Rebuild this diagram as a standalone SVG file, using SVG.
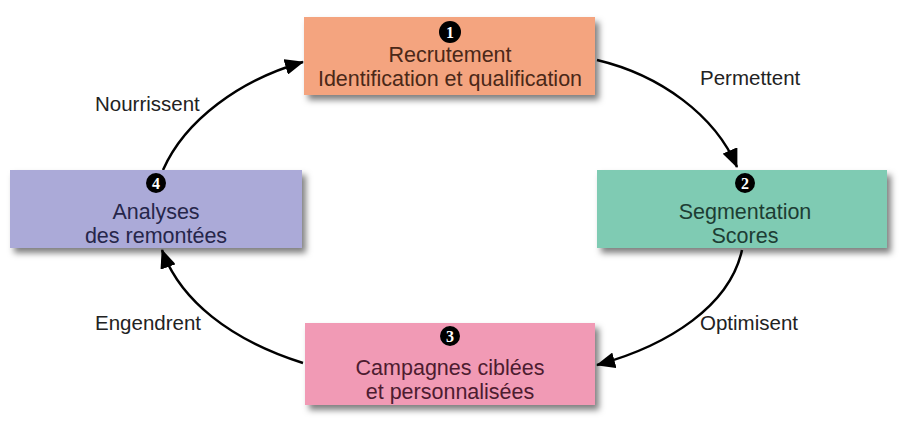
<svg xmlns="http://www.w3.org/2000/svg" width="916" height="432" viewBox="0 0 916 432">
<defs>
<filter id="sh" x="-10%" y="-20%" width="125%" height="150%">
<feDropShadow dx="4" dy="5" stdDeviation="3" flood-color="#000" flood-opacity="0.5"/>
</filter>
<marker id="ah" markerUnits="userSpaceOnUse" markerWidth="20" markerHeight="16" refX="18" refY="8" orient="auto">
<path d="M0,0 L19,8 L0,16 z" fill="#000"/>
</marker>
<style>
.box{filter:url(#sh)}
.t{font-family:"Liberation Sans",Arial,sans-serif;font-size:21.5px;text-anchor:middle}
.lbl{font-family:"Liberation Sans",Arial,sans-serif;font-size:20.5px;fill:#222}
.num{font-family:"Liberation Serif",serif;font-size:16px;font-weight:bold;fill:#fff;text-anchor:middle}
.c{fill:#000}
.con path{fill:none;stroke:#000;stroke-width:2.5;marker-end:url(#ah)}
</style>
</defs>
<rect width="916" height="432" fill="#fff"/>
<g id="connectors" class="con">
<path d="M597,60 C660,75 715,115 737,167"/>
<path d="M742,250 C730,305 670,345 597,365"/>
<path d="M303,363 C230,340 180,300 162,250"/>
<path d="M163,170 C185,120 240,80 303,62"/>
</g>
<g id="labels">
<text class="lbl" x="700" y="85">Permettent</text>
<text class="lbl" x="700" y="330">Optimisent</text>
<text class="lbl" x="95" y="330">Engendrent</text>
<text class="lbl" x="95" y="111">Nourrissent</text>
</g>
<g id="node1">
<rect class="box" x="304" y="17" width="291" height="78" fill="#f4a47f"/>
<circle class="c" cx="450" cy="32" r="11"/>
<text class="num" x="450" y="38">1</text>
<text class="t" x="450" y="62" fill="#4a2818">Recrutement</text>
<text class="t" x="450" y="86" fill="#4a2818">Identification et qualification</text>
</g>
<g id="node2">
<rect class="box" x="597" y="170" width="290" height="78" fill="#7fcbb3"/>
<circle class="c" cx="745" cy="183" r="10"/>
<text class="num" x="745" y="189">2</text>
<text class="t" x="745" y="219" fill="#1d3d33">Segmentation</text>
<text class="t" x="745" y="243" fill="#1d3d33">Scores</text>
</g>
<g id="node3">
<rect class="box" x="305" y="323" width="290" height="82" fill="#f19ab5"/>
<circle class="c" cx="450" cy="336" r="10"/>
<text class="num" x="450" y="342">3</text>
<text class="t" x="450" y="375" fill="#4d1c30">Campagnes ciblées</text>
<text class="t" x="450" y="399" fill="#4d1c30">et personnalisées</text>
</g>
<g id="node4">
<rect class="box" x="10" y="170" width="292" height="78" fill="#abaad8"/>
<circle class="c" cx="156" cy="183" r="10"/>
<text class="num" x="156" y="189">4</text>
<text class="t" x="156" y="219" fill="#26264a">Analyses</text>
<text class="t" x="156" y="243" fill="#26264a">des remontées</text>
</g>
</svg>
